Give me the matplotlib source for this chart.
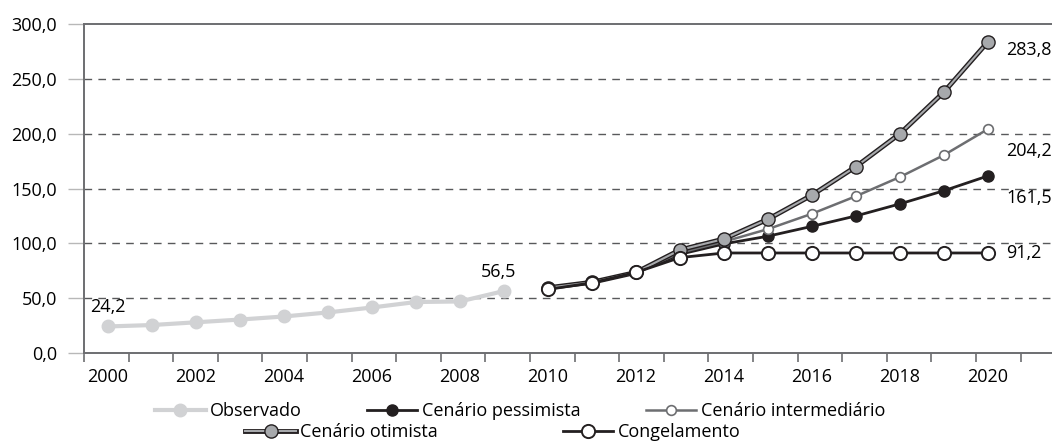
import numpy as np
import matplotlib
matplotlib.use("Agg")
import matplotlib.pyplot as plt
from matplotlib.lines import Line2D
from matplotlib.legend_handler import HandlerTuple

plt.rcParams['font.family'] = ['Open Sans', 'DejaVu Sans']

# ---- data ----
anos_obs = list(range(2000, 2010))
observado = [24.2, 25.5, 28.0, 30.5, 33.3, 37.0, 41.5, 46.5, 47.0, 56.5]

anos_proj = list(range(2010, 2021))
pessimista = [59.5, 64.5, 73.5, 90.0, 99.5, 106.5, 115.5, 125.0, 136.0, 148.0, 161.5]
intermediario = [59.5, 64.5, 73.5, 91.5, 101.5, 113.0, 127.0, 143.0, 160.5, 180.5, 204.2]
otimista = [59.5, 64.5, 73.5, 94.0, 104.0, 122.0, 144.0, 170.0, 200.0, 238.0, 283.8]
congelamento = [58.0, 64.0, 73.5, 87.0, 91.2, 91.2, 91.2, 91.2, 91.2, 91.2, 91.2]

anos_rotulo = list(range(2000, 2021, 2))

def fmt(v):
    return f"{v:.1f}".replace(".", ",")

# colours
c_obs = "#d1d2d4"
c_preto = "#231f20"
c_cinza = "#6d6e71"
c_cinza_cl = "#a7a9ac"
c_eixo = "#6d6e71"

fig = plt.figure(figsize=(10.52, 4.43), dpi=100)
ax = fig.add_axes([84 / 1052, 90 / 443, 968 / 1052, 329 / 443])

x_obs = np.array(anos_obs) - 2000
x_proj = np.array(anos_proj) - 2000

# observado
ax.plot(x_obs, observado, color=c_obs, lw=3.0, marker="o", ms=9,
        mfc=c_obs, mec=c_obs, zorder=3, solid_capstyle="round")

# pessimista
ax.plot(x_proj, pessimista, color=c_preto, lw=2.0, marker="o", ms=8,
        mfc=c_preto, mec=c_preto, zorder=4)

# intermediario
ax.plot(x_proj, intermediario, color=c_cinza, lw=1.8, marker="o", ms=7,
        mfc="white", mec=c_cinza, mew=1.2, zorder=5)

# otimista (double line)
ax.plot(x_proj, otimista, color=c_preto, lw=3.5, zorder=6)
ax.plot(x_proj, otimista, color=c_cinza_cl, lw=1.5, zorder=6)
ax.plot(x_proj, otimista, ls="none", marker="o", ms=9.5,
        mfc=c_cinza_cl, mec=c_preto, mew=1.0, zorder=7)

# congelamento
ax.plot(x_proj, congelamento, color=c_preto, lw=2.0, marker="o", ms=9.5,
        mfc="white", mec=c_preto, mew=1.4, zorder=8)

# value labels
fs = 13
ax.annotate(fmt(observado[0]), (x_obs[0], observado[0]), xytext=(0, 14),
            textcoords="offset points", ha="center", va="center", fontsize=fs)
ax.annotate(fmt(observado[-1]), (x_obs[-1], observado[-1]), xytext=(-4, 14),
            textcoords="offset points", ha="center", va="center", fontsize=fs)
ax.annotate(fmt(otimista[-1]), (x_proj[-1], otimista[-1]), xytext=(13, -6),
            textcoords="offset points", ha="left", va="center", fontsize=fs)
ax.annotate(fmt(intermediario[-1]), (x_proj[-1], intermediario[-1]), xytext=(13, -16),
            textcoords="offset points", ha="left", va="center", fontsize=fs)
ax.annotate(fmt(pessimista[-1]), (x_proj[-1], pessimista[-1]), xytext=(13, -16),
            textcoords="offset points", ha="left", va="center", fontsize=fs)
ax.annotate(fmt(congelamento[-1]), (x_proj[-1], congelamento[-1]), xytext=(13, 0),
            textcoords="offset points", ha="left", va="center", fontsize=fs)

# axes
ax.set_ylim(0, 300)
ax.set_yticks(np.arange(0, 301, 50))
ax.set_yticklabels([fmt(v) for v in np.arange(0, 301, 50)], fontsize=fs)
ax.tick_params(axis="y", length=11.5, width=1, color="#b8b8b8", pad=8)

# category axis: boundaries between years are a bit wider than point spacing
x_esq = -0.545
passo = 1.0136
ax.set_xlim(x_esq, 21.455)
ax.set_xticks([a - 2000 for a in anos_rotulo])
ax.set_xticklabels([str(a) for a in anos_rotulo], fontsize=fs)
ax.set_xticks(x_esq + passo * np.arange(22), minor=True)
ax.tick_params(axis="x", which="major", length=0, pad=11)
ax.tick_params(axis="x", which="minor", length=6.5, width=1.2, color=c_eixo)

for s in ["left", "top", "bottom"]:
    ax.spines[s].set_color(c_eixo)
    ax.spines[s].set_linewidth(1.4)
ax.spines["right"].set_visible(False)

for v in range(50, 300, 50):
    ax.axhline(v, color="#58595b", lw=1.0, ls=(0, (5.5, 4.5)), zorder=1)

# legend
h_obs = Line2D([], [], color=c_obs, lw=3.0, marker="o", ms=9, mfc=c_obs, mec=c_obs)
h_pes = Line2D([], [], color=c_preto, lw=2.0, marker="o", ms=8, mfc=c_preto, mec=c_preto)
h_int = Line2D([], [], color=c_cinza, lw=1.8, marker="o", ms=7, mfc="white", mec=c_cinza, mew=1.2)
h_oti = (Line2D([], [], color=c_preto, lw=3.5),
         Line2D([], [], color=c_cinza_cl, lw=1.5),
         Line2D([], [], ls="none", marker="o", ms=9.5, mfc=c_cinza_cl, mec=c_preto, mew=1.0))
h_con = Line2D([], [], color=c_preto, lw=2.0, marker="o", ms=9.5, mfc="white", mec=c_preto, mew=1.4)

leg1 = fig.legend([h_obs, h_pes, h_int],
                  ["Observado", "Cenário pessimista", "Cenário intermediário"],
                  loc="center", bbox_to_anchor=(520 / 1052, 1 - 411 / 443), ncol=3,
                  frameon=False, fontsize=fs, handlelength=2.8, handletextpad=0.25,
                  columnspacing=3.6, borderpad=0, borderaxespad=0)
leg2 = fig.legend([h_oti, h_con], ["Cenário otimista", "Congelamento"],
                  loc="center", bbox_to_anchor=(493 / 1052, 1 - 432 / 443), ncol=2,
                  frameon=False, fontsize=fs, handlelength=2.8, handletextpad=0.25,
                  columnspacing=6.9, borderpad=0, borderaxespad=0,
                  handler_map={tuple: HandlerTuple(ndivide=1)})

fig.savefig("out.png", dpi=100)
